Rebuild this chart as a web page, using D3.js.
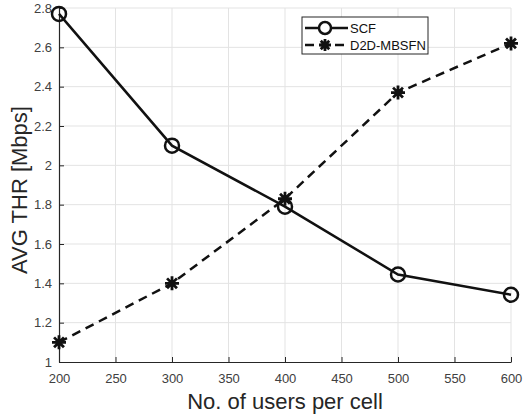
<!DOCTYPE html>
<html>
<head>
<meta charset="utf-8">
<script src="https://cdn.jsdelivr.net/npm/d3@7"></script>
<style>
  body { margin: 0; background: #fff; }
  svg { font-family: "Liberation Sans", Arial, sans-serif; }
</style>
</head>
<body>
<svg id="svg" width="523" height="417"></svg>
<script>
const users = [200, 300, 400, 500, 600];
const scf = [2.77, 2.10, 1.79, 1.445, 1.342];
const d2d = [1.10, 1.40, 1.83, 2.37, 2.62];
const xTicks = [200, 250, 300, 350, 400, 450, 500, 550, 600];
const yTicks = [1, 1.2, 1.4, 1.6, 1.8, 2, 2.2, 2.4, 2.6, 2.8];
const seriesNames = ['SCF', 'D2D-MBSFN'];

const svg = d3.select('#svg');
const area = {left: 59, right: 511, top: 8, bottom: 362};

const xScale = d3.scaleLinear().domain([200, 600]).range([area.left, area.right]);
const yScale = d3.scaleLinear().domain([1, 2.8]).range([area.bottom, area.top]);

// grid
const grid = svg.append('g').attr('stroke', '#e3e3e3').attr('stroke-width', 1);
grid.selectAll('.vg').data(xTicks.slice(1)).enter().append('line')
    .attr('x1', d => xScale(d)).attr('x2', d => xScale(d))
    .attr('y1', area.top).attr('y2', area.bottom);
grid.selectAll('.hg').data(yTicks.slice(1)).enter().append('line')
    .attr('y1', d => yScale(d)).attr('y2', d => yScale(d))
    .attr('x1', area.left).attr('x2', area.right);

// axes (ticks pointing inward)
const xAxis = svg.append('g')
    .attr('transform', 'translate(0,' + area.bottom + ')')
    .call(d3.axisBottom(xScale).tickValues(xTicks).tickSizeInner(-5).tickSizeOuter(0).tickPadding(12).tickFormat(d3.format('d')));
const yAxis = svg.append('g')
    .attr('transform', 'translate(' + area.left + ',0)')
    .call(d3.axisLeft(yScale).tickValues(yTicks).tickSizeInner(-5).tickSizeOuter(0).tickPadding(7).tickFormat(d => String(d)));
[xAxis, yAxis].forEach(a => {
    a.select('.domain').attr('stroke', '#262626').attr('stroke-width', 1.2);
    a.selectAll('.tick line').attr('stroke', '#262626');
    a.selectAll('text').attr('fill', '#404040').style('font-size', '13px');
});

// axis titles
svg.append('text')
    .attr('x', 285).attr('y', 409)
    .attr('text-anchor', 'middle')
    .attr('fill', '#262626')
    .style('font-size', '22px')
    .text('No. of users per cell');
svg.append('text')
    .attr('transform', 'translate(27,190) rotate(-90)')
    .attr('text-anchor', 'middle')
    .attr('fill', '#262626')
    .style('font-size', '22px')
    .text('AVG THR [Mbps]');

// lines
const line = d3.line().x((d, i) => xScale(users[i])).y(d => yScale(d));
svg.append('path').datum(scf)
    .attr('d', line).attr('fill', 'none')
    .attr('stroke', '#111').attr('stroke-width', 2.5);
svg.append('path').datum(d2d)
    .attr('d', line).attr('fill', 'none')
    .attr('stroke', '#111').attr('stroke-width', 2.5)
    .attr('stroke-dasharray', '9,6');

// markers
const star = r => {
    const a = r * Math.SQRT1_2;
    return 'M' + (-r) + ',0L' + r + ',0M0,' + (-r) + 'L0,' + r +
        'M' + (-a) + ',' + (-a) + 'L' + a + ',' + a +
        'M' + (-a) + ',' + a + 'L' + a + ',' + (-a);
};
svg.selectAll('.circ').data(scf).enter().append('circle')
    .attr('cx', (d, i) => xScale(users[i])).attr('cy', d => yScale(d))
    .attr('r', 7).attr('fill', 'none').attr('stroke', '#111').attr('stroke-width', 2.5);
svg.selectAll('.star').data(d2d).enter().append('path')
    .attr('transform', (d, i) => 'translate(' + xScale(users[i]) + ',' + yScale(d) + ')')
    .attr('d', star(7)).attr('fill', 'none').attr('stroke', '#111').attr('stroke-width', 2.8);

// legend
const leg = svg.append('g').attr('transform', 'translate(302,17)');
leg.append('rect').attr('width', 126).attr('height', 37)
    .attr('fill', '#fff').attr('stroke', '#262626').attr('stroke-width', 1);
const rows = leg.selectAll('.row').data(seriesNames).enter().append('g')
    .attr('transform', (d, i) => 'translate(0,' + (11 + i * 17) + ')');
rows.append('line').attr('x1', 3).attr('x2', 46).attr('y1', 0).attr('y2', 0)
    .attr('stroke', '#111').attr('stroke-width', 2.5)
    .attr('stroke-dasharray', (d, i) => i ? '9,6' : null);
rows.filter((d, i) => i === 0).append('circle')
    .attr('cx', 23).attr('cy', 0).attr('r', 6).attr('fill', '#fff')
    .attr('stroke', '#111').attr('stroke-width', 2.5);
rows.filter((d, i) => i === 1).append('path')
    .attr('transform', 'translate(23,0)').attr('d', star(6))
    .attr('stroke', '#111').attr('stroke-width', 2.8);
rows.append('text').attr('x', 48).attr('y', 4.5)
    .attr('fill', '#111').style('font-size', '13px')
    .text(d => d);
</script>
</body>
</html>
